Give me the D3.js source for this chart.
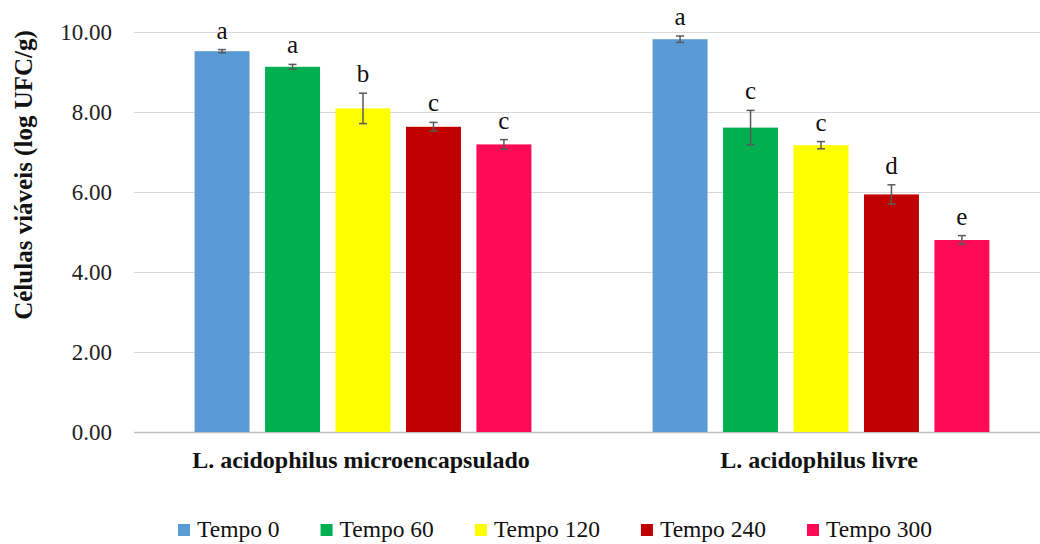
<!DOCTYPE html>
<html lang="pt">
    <head>
        <meta charset="utf-8">
        <title>Células viáveis</title>
        <script type="text/javascript" src="https://d3js.org/d3.v7.min.js"></script>
        <style type="text/css">
            body {
                margin: 0;
                background-color: #ffffff;
            }
            svg text {
                font-family: "Liberation Serif", Tinos, "Times New Roman", Times, "DejaVu Serif", serif;
            }
            .ticklabel {
                font-size: 23px;
                fill: #222;
            }
            .catlabel {
                font-size: 24px;
                font-weight: bold;
                fill: #111;
            }
            .letter {
                font-size: 25px;
                fill: #111;
            }
            .legend text {
                font-size: 23.5px;
                fill: #111;
            }
        </style>
    </head>
    <body>
        <svg width="1040" height="544"></svg>
        <script type="text/javascript">

            // data
            const groups = ["L. acidophilus microencapsulado", "L. acidophilus livre"];
            const series = ["Tempo 0", "Tempo 60", "Tempo 120", "Tempo 240", "Tempo 300"];
            const colors = ["#5B9BD5", "#00B050", "#FFFF00", "#C00000", "#FF0A54"];
            // values per group (same order as series)
            const microValues = [9.52, 9.13, 8.09, 7.63, 7.19];
            const livreValues = [9.82, 7.61, 7.17, 5.94, 4.80];
            // standard deviations
            const microErrors = [0.04, 0.06, 0.38, 0.11, 0.12];
            const livreErrors = [0.08, 0.43, 0.09, 0.24, 0.11];
            // significance letters
            const microLetters = ["a", "a", "b", "c", "c"];
            const livreLetters = ["a", "c", "c", "d", "e"];
            const yTicks = [0, 2, 4, 6, 8, 10];

            const values = [microValues, livreValues];
            const errors = [microErrors, livreErrors];
            const letters = [microLetters, livreLetters];

            const serif = "'Liberation Serif', Tinos, 'Times New Roman', Times, 'DejaVu Serif', serif";
            const svg = d3.select("svg");

            // plot area (right side runs off the picture like the original)
            const plotLeft = 134, plotRight = 1050, plotTop = 32, plotBottom = 432;

            const y = d3.scaleLinear()
                .domain([0, 10])
                .range([plotBottom, plotTop]);

            const x0 = d3.scaleBand()
                .domain(groups)
                .range([plotLeft, plotRight]);

            const x1 = d3.scaleBand()
                .domain(series)
                .range([0, x0.bandwidth()])
                .paddingInner(0.22)
                .paddingOuter(0.86);

            // gridlines
            svg.append("g")
                .selectAll("line")
                .data(yTicks)
                .enter()
                .append("line")
                .attr("x1", plotLeft)
                .attr("x2", plotRight)
                .attr("y1", d => Math.round(y(d)) + 0.5)
                .attr("y2", d => Math.round(y(d)) + 0.5)
                .style("stroke", d => d === 0 ? "#bfbfbf" : "#d9d9d9")
                .style("stroke-width", d => d === 0 ? 1.5 : 1);

            // y tick labels
            svg.append("g")
                .selectAll("text")
                .data(yTicks)
                .enter()
                .append("text")
                .attr("class", "ticklabel")
                .attr("font-family", serif)
                .attr("x", 112)
                .attr("y", d => y(d))
                .attr("dy", "0.35em")
                .attr("text-anchor", "end")
                .text(d => d3.format(".2f")(d));

            // y axis title
            svg.append("text")
                .attr("transform", "translate(32," + 175 + ") rotate(-90)")
                .attr("text-anchor", "middle")
                .attr("font-family", serif)
                .style("font-size", "25px")
                .style("font-weight", "bold")
                .style("fill", "#111")
                .text("Células viáveis (log UFC/g)");

            // flatten to one record per bar
            const bars = [];
            groups.forEach((g, gi) => {
                series.forEach((s, si) => {
                    bars.push({group: g, serie: s, color: colors[si],
                        value: values[gi][si], err: errors[gi][si], letter: letters[gi][si]});
                });
            });

            const barG = svg.append("g")
                .selectAll("g.bar")
                .data(bars)
                .enter()
                .append("g")
                .attr("class", "bar")
                .attr("transform", d => "translate(" + (x0(d.group) + x1(d.serie)) + ",0)");

            barG.append("rect")
                .attr("x", 0)
                .attr("width", x1.bandwidth())
                .attr("y", d => y(d.value))
                .attr("height", d => y(0) - y(d.value))
                .attr("fill", d => d.color);

            // error bars
            const cx = x1.bandwidth() / 2;
            barG.append("line")
                .attr("x1", cx).attr("x2", cx)
                .attr("y1", d => y(d.value - d.err))
                .attr("y2", d => y(d.value + d.err))
                .attr("stroke", "#595959")
                .attr("stroke-width", 1.5);
            barG.append("line")
                .attr("x1", cx - 4).attr("x2", cx + 4)
                .attr("y1", d => y(d.value + d.err))
                .attr("y2", d => y(d.value + d.err))
                .attr("stroke", "#595959")
                .attr("stroke-width", 1.5);
            barG.append("line")
                .attr("x1", cx - 4).attr("x2", cx + 4)
                .attr("y1", d => y(d.value - d.err))
                .attr("y2", d => y(d.value - d.err))
                .attr("stroke", "#595959")
                .attr("stroke-width", 1.5);

            // letters above error bars
            barG.append("text")
                .attr("class", "letter")
                .attr("font-family", serif)
                .attr("x", cx)
                .attr("y", d => y(d.value + d.err) - 11)
                .attr("text-anchor", "middle")
                .text(d => d.letter);

            // category labels
            svg.append("g")
                .selectAll("text")
                .data(groups)
                .enter()
                .append("text")
                .attr("class", "catlabel")
                .attr("font-family", serif)
                .attr("x", d => x0(d) + x0.bandwidth() / 2 - 2)
                .attr("y", 468)
                .attr("text-anchor", "middle")
                .text(d => d);

            // legend
            const legend = svg.append("g").attr("class", "legend");
            let lx = 178;
            series.forEach((s, i) => {
                legend.append("rect")
                    .attr("x", lx)
                    .attr("y", 524)
                    .attr("width", 12)
                    .attr("height", 12)
                    .attr("fill", colors[i]);
                const t = legend.append("text")
                    .attr("font-family", serif)
                    .attr("x", lx + 19)
                    .attr("y", 537)
                    .text(s);
                lx += 19 + t.node().getComputedTextLength() + 41;
            });

        </script>
    </body>
</html>
